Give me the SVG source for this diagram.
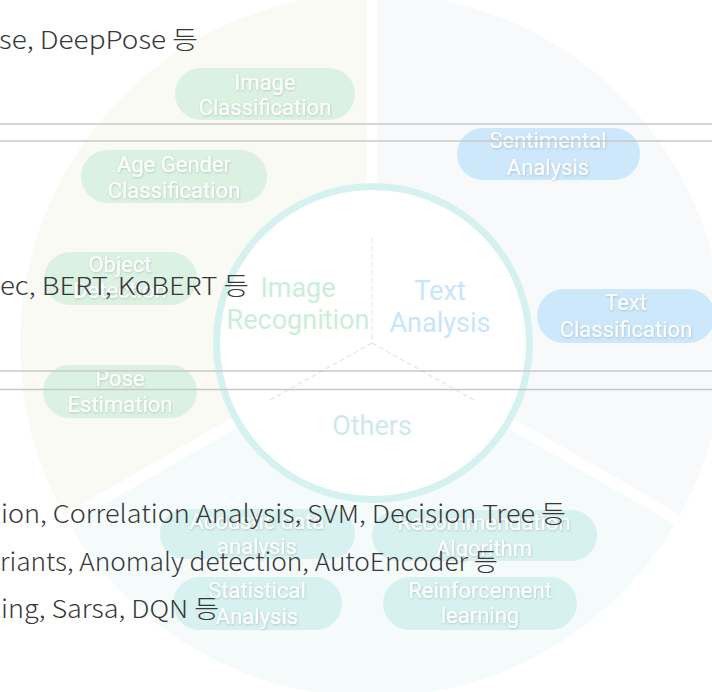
<svg xmlns="http://www.w3.org/2000/svg" width="712" height="692" viewBox="0 0 712 692">
<style>
.pill text{font-family:Roboto,"Liberation Sans",sans-serif;font-size:22px;fill:#ffffff;text-anchor:middle;filter:url(#ts)}
.img rect{fill:#dbf2e3}
.txt rect{fill:#cde8fb}
.oth rect{fill:#d6f1ef}
.center{font-family:Roboto,"Liberation Sans",sans-serif;font-size:27px;text-anchor:middle}
.ov{font-family:"Noto Sans CJK KR","Noto Sans",sans-serif;font-size:25px;font-weight:300;fill:#383838}
.hl{stroke:#c8c8c8;stroke-width:1.6}
.dash{stroke:#e6e6e6;stroke-width:1.3;stroke-dasharray:5 3;fill:none}
</style>
<defs>
<filter id="ts" x="-10%" y="-20%" width="120%" height="150%">
<feDropShadow dx="0.5" dy="1" stdDeviation="0.8" flood-color="#000" flood-opacity="0.18"/>
</filter>
</defs>
<rect width="712" height="692" fill="#ffffff"/>
<g id="sectors">
<path id="sector-image" d="M372,345 L372,-7 A352,352 0 0 0 67.2,521 Z" fill="#f9faf4"/>
<path id="sector-text" d="M372,345 L676.8,521 A352,352 0 0 0 372,-7 Z" fill="#f7f9fb"/>
<path id="sector-others" d="M372,345 L67.2,521 A352,352 0 0 0 676.8,521 Z" fill="#f5fbfb"/>
<g stroke="#ffffff" stroke-width="11">
<line x1="372" y1="343" x2="372" y2="-20"/>
<line x1="372" y1="343" x2="45" y2="532"/>
<line x1="372" y1="343" x2="699" y2="532"/>
</g>
</g>
<g id="core">
<circle cx="373" cy="343" r="156.5" fill="#ffffff" stroke="#d6f2f0" stroke-width="7"/>
<g class="dash">
<line x1="372" y1="238" x2="372" y2="343"/>
<line x1="372" y1="343" x2="270" y2="400"/>
<line x1="372" y1="343" x2="474" y2="400"/>
</g>
<text class="center" fill="#c9eed9"><tspan x="298" y="297">Image</tspan><tspan x="298" y="329">Recognition</tspan></text>
<text class="center" fill="#c8e5fb"><tspan x="440" y="300">Text</tspan><tspan x="440" y="332">Analysis</tspan></text>
<text class="center" fill="#cfe9e8" x="372" y="435">Others</text>
</g>
<g id="n-image-classification" class="pill img"><rect x="175" y="68" width="180" height="52" rx="26"/><text><tspan x="265" y="90">Image</tspan><tspan x="265" y="115">Classification</tspan></text></g>
<g id="n-age-gender" class="pill img"><rect x="81" y="150" width="186" height="53" rx="26.5"/><text><tspan x="174" y="172">Age Gender</tspan><tspan x="174" y="198">Classification</tspan></text></g>
<g id="n-object-detection" class="pill img"><rect x="44" y="252" width="153" height="53" rx="26.5"/><text><tspan x="120" y="272">Object</tspan><tspan x="120" y="298">Detection</tspan></text></g>
<g id="n-pose-estimation" class="pill img"><rect x="43" y="365" width="154" height="53" rx="26.5"/><text><tspan x="120" y="386">Pose</tspan><tspan x="120" y="412">Estimation</tspan></text></g>
<g id="n-sentimental" class="pill txt"><rect x="457" y="128" width="183" height="52" rx="26"/><text><tspan x="548" y="148">Sentimental</tspan><tspan x="548" y="175">Analysis</tspan></text></g>
<g id="n-text-classification" class="pill txt"><rect x="537" y="289" width="178" height="54" rx="27"/><text><tspan x="626" y="310">Text</tspan><tspan x="626" y="337">Classification</tspan></text></g>
<g id="n-acoustic" class="pill oth"><rect x="160" y="509" width="195" height="50" rx="25"/><text><tspan x="257" y="529">Acoustic data</tspan><tspan x="257" y="554">analysis</tspan></text></g>
<g id="n-recommendation" class="pill oth"><rect x="372" y="510" width="225" height="51" rx="25.5"/><text><tspan x="484" y="530">Recommendation</tspan><tspan x="484" y="556">Algorithm</tspan></text></g>
<g id="n-statistical" class="pill oth"><rect x="173" y="577" width="169" height="53" rx="26.5"/><text><tspan x="257" y="598">Statistical</tspan><tspan x="257" y="624">Analysis</tspan></text></g>
<g id="n-reinforcement" class="pill oth"><rect x="383" y="577" width="194" height="53" rx="26.5"/><text><tspan x="480" y="598">Reinforcement</tspan><tspan x="480" y="623">learning</tspan></text></g>
<g id="overlay">
<line class="hl" x1="0" y1="124" x2="712" y2="124"/>
<line class="hl" x1="0" y1="141" x2="712" y2="141"/>
<line class="hl" x1="0" y1="371" x2="712" y2="371"/>
<line class="hl" x1="0" y1="389.5" x2="712" y2="389.5"/>
<text class="ov" x="-1" y="49" textLength="199" lengthAdjust="spacingAndGlyphs">se, DeepPose 등</text>
<text class="ov" x="0" y="295" textLength="249" lengthAdjust="spacingAndGlyphs">ec, BERT, KoBERT 등</text>
<text class="ov" x="1" y="523" textLength="565" lengthAdjust="spacingAndGlyphs">ion, Correlation Analysis, SVM, Decision Tree 등</text>
<text class="ov" x="0" y="571" textLength="498" lengthAdjust="spacingAndGlyphs">riants, Anomaly detection, AutoEncoder 등</text>
<text class="ov" x="1" y="618" textLength="218" lengthAdjust="spacingAndGlyphs">ing, Sarsa, DQN 등</text>
</g>
</svg>
